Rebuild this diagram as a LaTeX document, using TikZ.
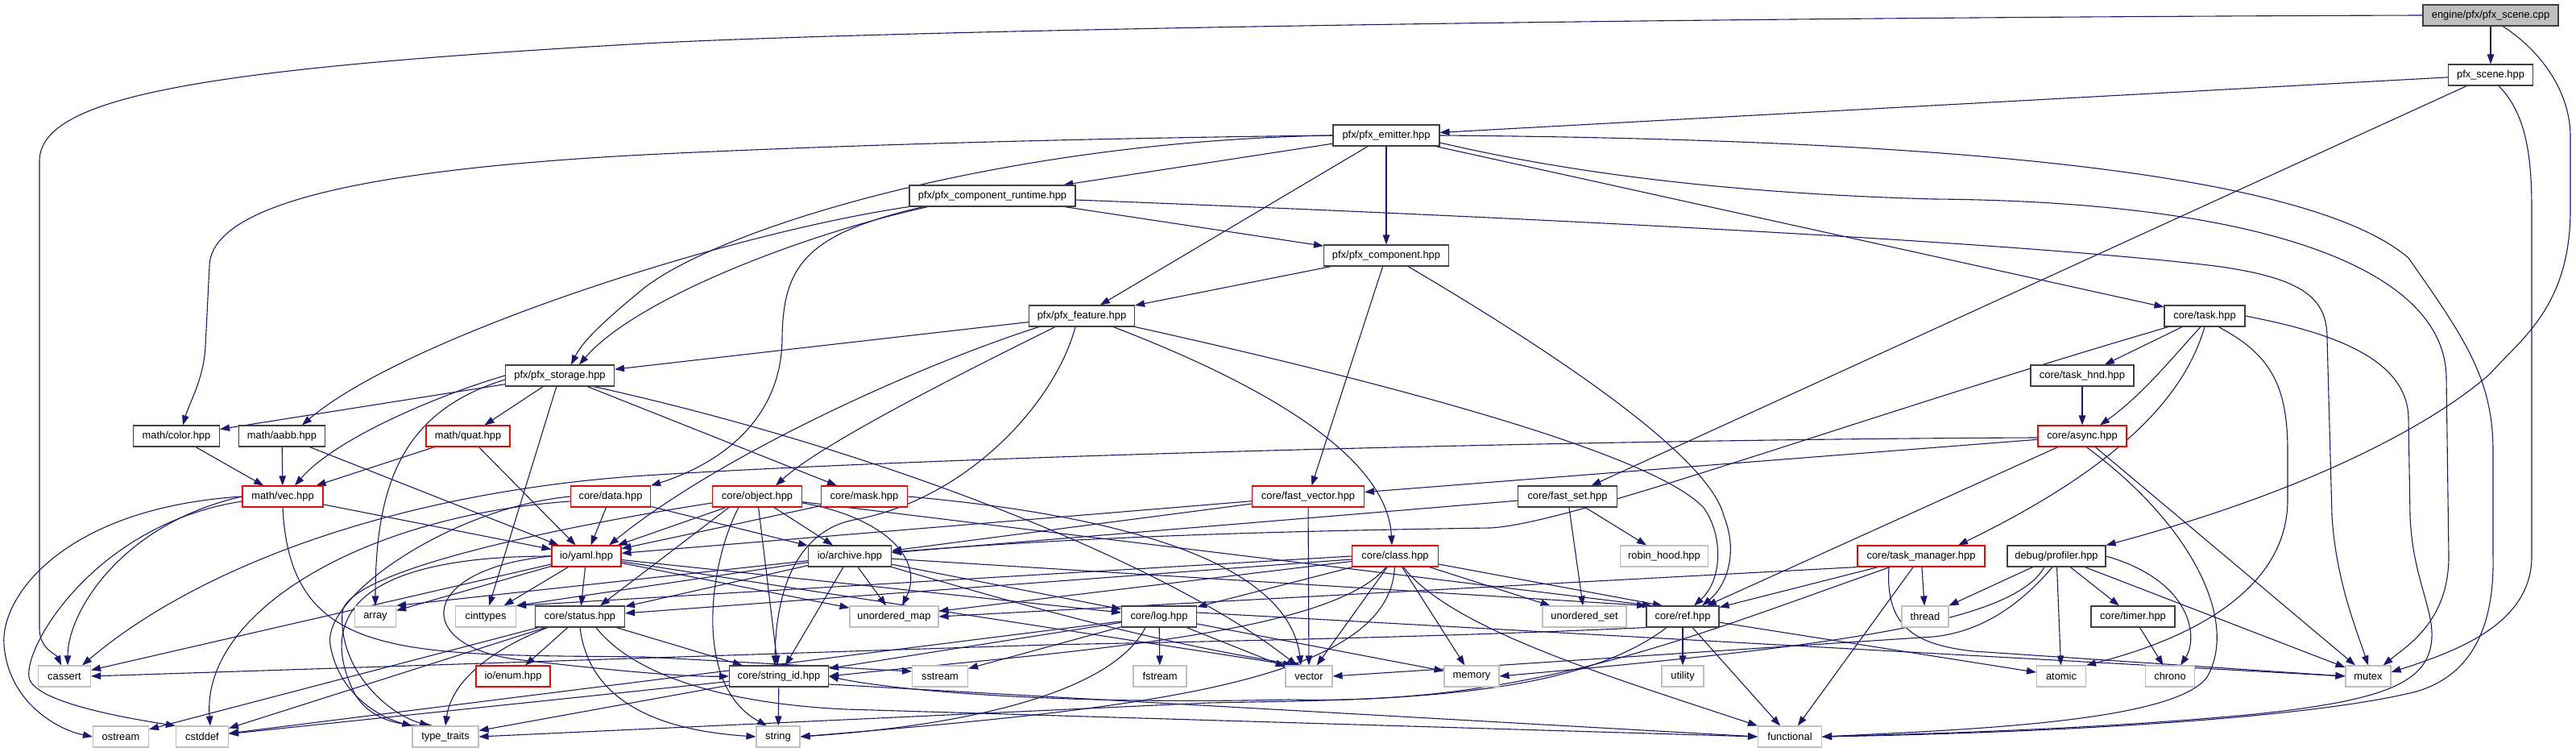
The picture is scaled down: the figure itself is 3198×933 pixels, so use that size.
\documentclass[tikz,border=0pt]{standalone}
\usepackage{fontspec}
\setmainfont{Liberation Sans}
\usepackage{xcolor}
\usepackage{tikz}
\usetikzlibrary{arrows.meta, backgrounds}
\definecolor{incl}{HTML}{191970}
\definecolor{boxgray}{HTML}{BFBFBF}
\definecolor{boxdark}{HTML}{404040}

\begin{document}
\begin{tikzpicture}[
  x=1pt, y=-1pt, >={Triangle[length=12pt, width=8.5pt]},
  hdr/.style={draw=boxdark, fill=white, line width=1.1pt, inner sep=0pt,
              minimum height=26pt, font=\fontsize{12.9}{15}\selectfont},
  trunchdr/.style={hdr, draw=red},
  sys/.style={hdr, draw=boxgray},
  src/.style={hdr, fill=boxgray},
  dep/.style={->, draw=incl, line width=1.1pt},
]
\useasboundingbox (0,0) rectangle (3198,933);

% --- files, one row per level ---
\node[src, minimum width=168pt] (cpp) at (3092,19) {engine/pfx/pfx\_scene.cpp};
\node[hdr, minimum width=105pt] (scene) at (3092,93) {pfx\_scene.hpp};
\node[hdr, minimum width=132pt] (emitter) at (1721,168) {pfx/pfx\_emitter.hpp};
\node[hdr, minimum width=206pt] (runtime) at (1232,243) {pfx/pfx\_component\_runtime.hpp};
\node[hdr, minimum width=155pt] (component) at (1721,317) {pfx/pfx\_component.hpp};
\node[hdr, minimum width=131pt] (feature) at (1343,392) {pfx/pfx\_feature.hpp};
\node[hdr, minimum width=100pt] (task) at (2737,392) {core/task.hpp};
\node[hdr, minimum width=135pt] (storage) at (695,466) {pfx/pfx\_storage.hpp};
\node[hdr, minimum width=128pt] (taskhnd) at (2585,466) {core/task\_hnd.hpp};
\node[hdr, minimum width=107pt] (color) at (219,541) {math/color.hpp};
\node[hdr, minimum width=107pt] (aabb) at (350,541) {math/aabb.hpp};
\node[trunchdr, minimum width=104pt] (quat) at (581,541) {math/quat.hpp};
\node[trunchdr, minimum width=110pt] (async) at (2585,541) {core/async.hpp};
\node[trunchdr, minimum width=100pt] (vec) at (351,616) {math/vec.hpp};
\node[trunchdr, minimum width=99pt] (data) at (758,616) {core/data.hpp};
\node[trunchdr, minimum width=111pt] (object) at (940,616) {core/object.hpp};
\node[trunchdr, minimum width=107pt] (mask) at (1073,616) {core/mask.hpp};
\node[trunchdr, minimum width=139pt] (fastvec) at (1624,616) {core/fast\_vector.hpp};
\node[hdr, minimum width=123pt] (fastset) at (1946,616) {core/fast\_set.hpp};
\node[trunchdr, minimum width=86pt] (yaml) at (728,690) {io/yaml.hpp};
\node[hdr, minimum width=103pt] (archive) at (1055,690) {io/archive.hpp};
\node[trunchdr, minimum width=107pt] (class) at (1732,690) {core/class.hpp};
\node[sys, minimum width=109pt] (robin) at (2066,690) {robin\_hood.hpp};
\node[trunchdr, minimum width=158pt] (taskmgr) at (2385,690) {core/task\_manager.hpp};
\node[hdr, minimum width=122pt] (profiler) at (2553,690) {debug/profiler.hpp};
\node[sys, minimum width=51pt] (array) at (466,765) {array};
\node[sys, minimum width=75pt] (cinttypes) at (603,765) {cinttypes};
\node[hdr, minimum width=111pt] (status) at (720,765) {core/status.hpp};
\node[sys, minimum width=110pt] (umap) at (1110,765) {unordered\_map};
\node[hdr, minimum width=93pt] (log) at (1439,765) {core/log.hpp};
\node[sys, minimum width=104pt] (uset) at (1967,765) {unordered\_set};
\node[hdr, minimum width=90pt] (ref) at (2089,765) {core/ref.hpp};
\node[sys, minimum width=58pt] (thread) at (2390,765) {thread};
\node[hdr, minimum width=104pt] (timer) at (2648,765) {core/timer.hpp};
\node[sys, minimum width=65pt] (cassert) at (80,839) {cassert};
\node[trunchdr, minimum width=92pt] (enum) at (637,839) {io/enum.hpp};
\node[hdr, minimum width=123pt] (stringid) at (967,839) {core/string\_id.hpp};
\node[sys, minimum width=69pt] (sstream) at (1167,839) {sstream};
\node[sys, minimum width=66pt] (fstream) at (1440,839) {fstream};
\node[sys, minimum width=58pt] (vector) at (1625,839) {vector};
\node[sys, minimum width=68pt] (memory) at (1827,839) {memory};
\node[sys, minimum width=52pt] (utility) at (2089,839) {utility};
\node[sys, minimum width=61pt] (atomic) at (2559,839) {atomic};
\node[sys, minimum width=61pt] (chrono) at (2694,839) {chrono};
\node[sys, minimum width=56pt] (mutex) at (2940,839) {mutex};
\node[sys, minimum width=69pt] (ostream) at (150,914) {ostream};
\node[sys, minimum width=65pt] (cstddef) at (251,914) {cstddef};
\node[sys, minimum width=82pt] (traits) at (553,914) {type\_traits};
\node[sys, minimum width=54pt] (string) at (966,914) {string};
\node[sys, minimum width=79pt] (functional) at (2222,914) {functional};

\begin{scope}[on background layer]
% --- source file ---
\draw[dep] (cpp) -- (scene);
\draw[dep] (cpp.west) .. controls (2000,22) and (1100,38) .. (800,54)
  .. controls (250,85) and (49,120) .. (49,200) -- (49,780)
  .. controls (49,805) and (70,812) .. ([xshift=-4pt]cassert.north);
\draw[dep] ([xshift=15pt]cpp.south) .. controls (3150,60) and (3191,110) .. (3191,170)
  -- (3191,260) .. controls (3191,380) and (3130,420) .. (3092,463)
  .. controls (3040,510) and (2900,600) .. (profiler.north east);

% --- pfx_scene.hpp ---
\draw[dep] (scene) -- (emitter);
\draw[dep] (scene) -- (fastset);
\draw[dep] ([xshift=10pt]scene.south) .. controls (3135,140) and (3143,190) .. (3143,260)
  -- (3143,690) .. controls (3143,770) and (3060,805) .. ([yshift=5pt]mutex.east);

% --- emitter ---
\draw[dep] (emitter) -- (runtime);
\draw[dep] (emitter) -- (component);
\draw[dep] (emitter) -- (feature);
\draw[dep] (emitter) -- (task);
\draw[dep] (emitter.west) .. controls (1250,175) and (900,280) .. (800,357)
  .. controls (760,390) and (725,420) .. ([xshift=14pt]storage.north);
\draw[dep] (emitter.west) .. controls (1300,172) and (1000,182) .. (800,192)
  .. controls (420,212) and (262,260) .. (260,330) -- (255,430)
  .. controls (253,470) and (235,500) .. ([xshift=8pt]color.north);
\draw[dep] ([yshift=-9pt]emitter.east) .. controls (1950,215) and (2150,240) .. (2400,247)
  .. controls (2800,250) and (3037,330) .. (3037,470) -- (3040,690)
  .. controls (3040,770) and (2990,800) .. ([xshift=-10pt]mutex.north east);
\draw[dep] (emitter.east) .. controls (2300,172) and (2850,200) .. (2990,320)
  .. controls (3060,420) and (3095,470) .. (3095,560) -- (3095,690)
  .. controls (3097,790) and (3060,840) .. (3000,858)
  .. controls (2850,895) and (2500,910) .. (functional.east);

% --- component runtime ---
\draw[dep] (runtime) -- (component);
\draw[dep] ([xshift=-80pt]runtime.south) .. controls (1000,290) and (790,370) .. ([xshift=24pt]storage.north);
\draw[dep] (runtime.south west) .. controls (900,290) and (500,420) .. ([xshift=25pt]aabb.north);
\draw[dep] ([xshift=18pt]runtime.south west) .. controls (1000,290) and (972,330) .. (971,420)
  .. controls (970,530) and (880,580) .. (data.north east);
\draw[dep] ([yshift=-5pt]runtime.east) .. controls (1900,270) and (2500,300) .. (2750,330)
  .. controls (2860,345) and (2889,370) .. (2889,420) -- (2895,640)
  .. controls (2900,720) and (2925,780) .. (mutex.north);

% --- component ---
\draw[dep] (component) -- (feature);
\draw[dep] (component) -- (fastvec);
\draw[dep] ([xshift=27pt]component.south) .. controls (1900,420) and (2120,560) .. (2140,640)
  .. controls (2160,690) and (2140,730) .. ([xshift=24pt]ref.north);

% --- feature ---
\draw[dep] (feature) -- (storage);
\draw[dep] ([xshift=-53pt]feature.south) .. controls (1150,450) and (900,560) .. ([xshift=28pt]yaml.north);
\draw[dep] ([xshift=-33pt]feature.south) .. controls (1200,460) and (1020,550) .. ([xshift=23pt]object.north);
\draw[dep] ([xshift=-8pt]feature.south) .. controls (1310,500) and (1200,620) .. (1060,645)
  .. controls (985,660) and (963,740) .. ([xshift=-5pt]stringid.north);
\draw[dep] ([xshift=39pt]feature.south) .. controls (1550,470) and (1722,560) .. ([xshift=-4pt]class.north);
\draw[dep] (feature.south east) .. controls (1700,470) and (2050,560) .. (2115,630)
  .. controls (2140,665) and (2138,720) .. ([xshift=14pt]ref.north);

% --- task ---
\draw[dep] (task) -- (taskhnd);
\draw[dep] ([xshift=-5pt]task.south) .. controls (2700,440) and (2660,490) .. ([xshift=22pt]async.north);
\draw[dep] (task.south) .. controls (2715,480) and (2650,570) .. ([xshift=46pt]taskmgr.north);
\draw[dep] ([xshift=-45pt]task.south) .. controls (2300,520) and (1950,650) .. (1850,655)
  .. controls (1500,660) and (1300,670) .. ([yshift=5pt]archive.east);
\draw[dep] ([xshift=17pt]task.south) .. controls (2820,440) and (2840,480) .. (2840,560) -- (2840,620)
  .. controls (2840,760) and (2650,810) .. (atomic.north east);
\draw[dep] (task.east) .. controls (2880,410) and (2990,440) .. (2990,520) -- (2992,640)
  .. controls (2995,720) and (3025,760) .. (3018,800)
  .. controls (3010,850) and (2950,870) .. (2800,886)
  .. controls (2600,905) and (2400,910) .. (functional.east);
\draw[dep] (taskhnd) -- (async);

% --- async ---
\draw[dep] (async) -- (fastvec);
\draw[dep] (async) -- (ref);
\draw[dep] (async) -- (mutex);
\draw[dep] ([xshift=5pt]async.south) .. controls (2720,650) and (2780,770) .. (2740,840)
  .. controls (2700,895) and (2450,905) .. (functional.east);
\draw[dep] ([yshift=-2pt]async.west) .. controls (2000,545) and (1200,565) .. (800,590)
  .. controls (500,610) and (250,700) .. ([xshift=22pt]cassert.north);

% --- storage ---
\draw[dep] (storage) -- (color);
\draw[dep] (storage.west) .. controls (560,485) and (420,540) .. ([xshift=15pt]vec.north);
\draw[dep] (storage) -- (quat);
\draw[dep] ([yshift=-5pt]storage.west) .. controls (500,510) and (466,600) .. (array.north);
\draw[dep] (storage) -- (cinttypes);
\draw[dep] (storage) -- (mask);
\draw[dep] ([xshift=42pt]storage.south) .. controls (1100,560) and (1450,700) .. ([xshift=-15pt]vector.north);

% --- math ---
\draw[dep] (color) -- (vec);
\draw[dep] (aabb) -- (vec);
\draw[dep] (aabb) -- (yaml);
\draw[dep] (quat) -- (vec);
\draw[dep] (quat) -- (yaml);
\draw[dep] (vec) -- (yaml);
\draw[dep] (vec.west) .. controls (150,650) and (84,760) .. ([xshift=4pt]cassert.north);
\draw[dep] (vec.west) .. controls (80,630) and (0,740) .. (5,800)
  .. controls (10,870) and (70,905) .. (ostream.west);
\draw[dep] ([yshift=-6pt]vec.west) .. controls (120,650) and (30,800) .. (36,840)
  .. controls (40,870) and (150,890) .. (cstddef.north west);
\draw[dep] (vec.south) .. controls (360,820) and (500,812) .. (800,815) -- ([yshift=6pt]sstream.west);

% --- data, object, mask, fast containers ---
\draw[dep] (data) -- (yaml);
\draw[dep] (data) -- (archive);
\draw[dep] (data.west) .. controls (560,630) and (400,740) .. (410,800)
  .. controls (420,860) and (470,890) .. (traits.north west);
\draw[dep] ([yshift=-6pt]data.west) .. controls (450,640) and (250,760) .. ([xshift=10pt]cstddef.north);
\draw[dep] (object) -- (yaml);
\draw[dep] (object) -- (archive);
\draw[dep] (object) -- (stringid);
\draw[dep] ([xshift=-23pt]object.south) .. controls (880,700) and (860,850) .. ([xshift=-14pt]string.north);
\draw[dep] ([yshift=-8pt]object.east) .. controls (1090,640) and (1150,690) .. ([xshift=10pt]umap.north);
\draw[dep] ([xshift=-35pt]object.south) -- ([xshift=25pt]status.north);
\draw[dep] (object) -- ([xshift=-38pt]ref.north);
\draw[dep] ([yshift=-8pt]object.west) .. controls (780,640) and (430,700) .. (425,760)
  .. controls (420,830) and (480,885) .. ([xshift=-20pt]traits.north);
\draw[dep] (mask) -- (yaml);
\draw[dep] (mask.east) .. controls (1400,640) and (1600,700) .. ([xshift=-10pt]vector.north);
\draw[dep] (fastvec) -- (archive);
\draw[dep] (fastvec) -- (yaml);
\draw[dep] (fastvec) -- (vector);
\draw[dep] (fastset) -- (archive);
\draw[dep] (fastset) -- (uset);
\draw[dep] (fastset) -- (robin);

% --- io ---
\draw[dep] (yaml) -- (array);
\draw[dep] (yaml) -- (cinttypes);
\draw[dep] (yaml) -- (status);
\draw[dep] (yaml) -- (cassert);
\draw[dep] (yaml.west) .. controls (520,705) and (510,800) .. (640,818)
  .. controls (760,832) and (850,840) .. (stringid.west);
\draw[dep] (yaml.west) .. controls (420,690) and (400,780) .. (440,860)
  .. controls (460,895) and (500,900) .. ([xshift=-15pt]traits.north);
\draw[dep] (yaml) -- (umap);
\draw[dep] (yaml) -- ([xshift=-20pt]vector.north);
\draw[dep] (yaml) -- (log);
\draw[dep] (archive) -- (status);
\draw[dep] (archive) -- (stringid);
\draw[dep] (archive) -- (umap);
\draw[dep] (archive.south east) .. controls (1300,760) and (1450,800) .. ([xshift=-10pt]vector.north);
\draw[dep] (archive) -- (log);
\draw[dep] (archive) -- (cinttypes.north east);
\draw[dep] (archive) -- (array.north east);
\draw[dep] (archive) -- ([xshift=-45pt]ref.north);

% --- class ---
\draw[dep] (class) -- (vector);
\draw[dep] (class) -- (memory);
\draw[dep] (class) .. controls (1800,780) and (2000,840) .. (functional.north west);
\draw[dep] (class) -- (uset);
\draw[dep] (class) -- ([xshift=-25pt]ref.north);
\draw[dep] (class) .. controls (1650,790) and (1300,810) .. (stringid.east);
\draw[dep] (class) .. controls (1725,850) and (1400,880) .. (string.east);
\draw[dep] (class) -- (umap);
\draw[dep] (class) -- (status);
\draw[dep] (class) -- (log);
\draw[dep] (class.west) -- (cinttypes.north east);

% --- task manager, profiler ---
\draw[dep] (taskmgr) -- (ref);
\draw[dep] (taskmgr) -- (functional);
\draw[dep] (taskmgr) -- (thread);
\draw[dep] ([xshift=-40pt]taskmgr.south) .. controls (2340,780) and (2380,800) .. (2450,808) -- (mutex.west);
\draw[dep] (taskmgr) .. controls (2100,790) and (1900,875) .. (1600,868)
  .. controls (1300,875) and (1100,855) .. (stringid.east);
\draw[dep] (taskmgr.south west) -- (umap.east);
\draw[dep] (profiler) -- (thread);
\draw[dep] (profiler) -- (atomic);
\draw[dep] (profiler) -- (timer);
\draw[dep] (profiler) -- (mutex);
\draw[dep] (profiler.east) .. controls (2720,720) and (2730,790) .. ([xshift=13pt]chrono.north);
\draw[dep] ([xshift=-15pt]profiler.south) .. controls (2500,770) and (2300,800) .. (memory.east);
\draw[dep] ([xshift=-5pt]profiler.south) .. controls (2500,760) and (2450,785) .. (2400,790) -- (vector.east);

% --- status, log ---
\draw[dep] (status) -- (ostream);
\draw[dep] (status) -- (cstddef);
\draw[dep] (status) -- (enum);
\draw[dep] ([xshift=-40pt]status.south) .. controls (600,810) and (560,850) .. (traits.north);
\draw[dep] (status.south) .. controls (730,860) and (800,905) .. (string.west);
\draw[dep] ([xshift=20pt]status.south) .. controls (780,830) and (880,872) .. (1050,880) -- (functional.west);
\draw[dep] (status) -- (stringid);
\draw[dep] (log) -- (sstream);
\draw[dep] (log) -- (fstream);
\draw[dep] (log) -- (vector);
\draw[dep] ([xshift=-17pt]log.south) .. controls (1380,860) and (1200,900) .. (string.east);
\draw[dep] (log) -- (stringid);
\draw[dep] (log) -- (memory);
\draw[dep] ([yshift=5pt]log.east) -- (mutex.west);
\draw[dep] (log) -- (cstddef);

% --- string id, ref, timer ---
\draw[dep] (stringid) -- (string);
\draw[dep] (stringid) -- (cstddef);
\draw[dep] (stringid) -- (traits);
\draw[dep] ([yshift=-10pt]stringid.east) -- (functional.west);
\draw[dep] (ref) -- (utility);
\draw[dep] (ref) -- (functional);
\draw[dep] (ref) -- (atomic);
\draw[dep] (ref.south west) .. controls (1800,790) and (1500,796) .. (1300,800) -- (cassert.east);
\draw[dep] ([xshift=-20pt]ref.south) .. controls (1950,870) and (1700,868) .. (1500,872) -- (traits.east);
\draw[dep] (timer) -- (chrono);
\end{scope}
\end{tikzpicture}
\end{document}
